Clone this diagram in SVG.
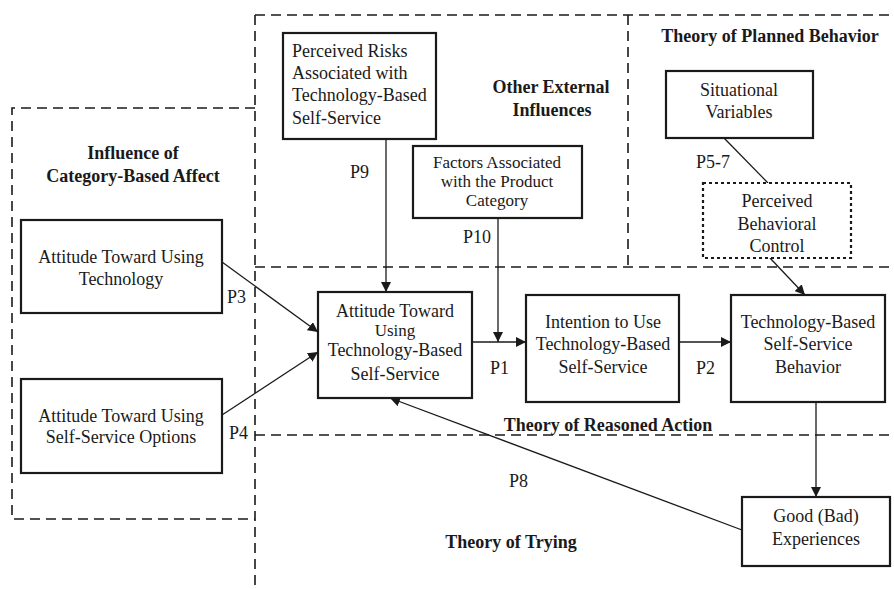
<svg xmlns="http://www.w3.org/2000/svg" width="894" height="589" viewBox="0 0 894 589" font-family="'Liberation Serif', 'DejaVu Serif', serif">
<style>
text{font-family:"Liberation Serif","Times New Roman",Times,serif;font-size:18px;fill:#1a1a1a}
.b{font-weight:bold}
.c{text-anchor:middle}
.s{font-size:17px}
.box{fill:#fff;stroke:#1a1a1a;stroke-width:2.2}
.dot{fill:#fff;stroke:#1a1a1a;stroke-width:2.2;stroke-dasharray:3,3}
.dash{fill:none;stroke:#1a1a1a;stroke-width:1.6;stroke-dasharray:10,6}
.ln{fill:none;stroke:#1a1a1a;stroke-width:1.3}
</style>
<defs>
<marker id="ah" viewBox="0 0 10 10" refX="10" refY="5" markerWidth="10" markerHeight="10" markerUnits="userSpaceOnUse" orient="auto">
<path d="M0,0 L10,5 L0,10 z" fill="#1a1a1a"/>
</marker>
</defs>
<g id="regions">
<path class="dash" d="M255,15 H894"/>
<path class="dash" d="M255,15 V589"/>
<path class="dash" d="M255,108 H12 V519 H255"/>
<path class="dash" d="M255,267 H894"/>
<path class="dash" d="M628,15 V267"/>
<path class="dash" d="M255,435 H894"/>
<text class="b c" x="770" y="42">Theory of Planned Behavior</text>
<text class="b c" x="551" y="93">Other External</text>
<text class="b c" x="552" y="116">Influences</text>
<text class="b c" x="133" y="159">Influence of</text>
<text class="b c" x="133" y="182">Category-Based Affect</text>
<text class="b c" x="608" y="431">Theory of Reasoned Action</text>
<text class="b c" x="511" y="548">Theory of Trying</text>
</g>
<g id="connectors">
<path class="ln" d="M222,262 L318,332" marker-end="url(#ah)"/>
<path class="ln" d="M222,415 L318,352" marker-end="url(#ah)"/>
<path class="ln" d="M386,139 V292" marker-end="url(#ah)"/>
<path class="ln" d="M498,218 V342" marker-end="url(#ah)"/>
<path class="ln" d="M472,342 H526" marker-end="url(#ah)"/>
<path class="ln" d="M679,342 H731" marker-end="url(#ah)"/>
<path class="ln" d="M724,138 L768,183"/>
<path class="ln" d="M770,258 L805,295" marker-end="url(#ah)"/>
<path class="ln" d="M816,402 V497" marker-end="url(#ah)"/>
<path class="ln" d="M742,530 L390,398" marker-end="url(#ah)"/>
<text x="350" y="178">P9</text>
<text x="463" y="243">P10</text>
<text x="227" y="303">P3</text>
<text x="229" y="439">P4</text>
<text x="490" y="374">P1</text>
<text x="696" y="374">P2</text>
<text x="696" y="168">P5-7</text>
<text x="509" y="487">P8</text>
</g>
<g id="risks">
<rect class="box" x="283" y="33" width="153" height="106"/>
<text x="292" y="57">Perceived Risks</text>
<text x="292" y="79">Associated with</text>
<text x="292" y="101">Technology-Based</text>
<text x="292" y="124">Self-Service</text>
</g>
<g id="factors">
<rect class="box" x="413" y="146" width="169" height="72"/>
<text class="c s" x="497" y="168">Factors Associated</text>
<text class="c s" x="497" y="187">with the Product</text>
<text class="c s" x="497" y="206">Category</text>
</g>
<g id="situational">
<rect class="box" x="666" y="71" width="147" height="67"/>
<text class="c" x="739" y="96">Situational</text>
<text class="c" x="739" y="118">Variables</text>
</g>
<g id="pbc">
<rect class="dot" x="703" y="183" width="148" height="75"/>
<text class="c" x="777" y="207">Perceived</text>
<text class="c" x="777" y="230">Behavioral</text>
<text class="c" x="777" y="252">Control</text>
</g>
<g id="att-tech">
<rect class="box" x="21" y="220" width="201" height="93"/>
<text class="c" x="121" y="263">Attitude Toward Using</text>
<text class="c" x="121" y="285">Technology</text>
</g>
<g id="att-self">
<rect class="box" x="21" y="379" width="201" height="94"/>
<text class="c" x="121" y="422">Attitude Toward Using</text>
<text class="c" x="121" y="443">Self-Service Options</text>
</g>
<g id="att-tbss">
<rect class="box" x="318" y="292" width="154" height="106"/>
<text class="c" x="395" y="317">Attitude Toward</text>
<text class="c s" x="395" y="336">Using</text>
<text class="c" x="395" y="356">Technology-Based</text>
<text class="c" x="395" y="380">Self-Service</text>
</g>
<g id="intention">
<rect class="box" x="526" y="295" width="153" height="107"/>
<text class="c" x="603" y="328">Intention to Use</text>
<text class="c" x="603" y="350">Technology-Based</text>
<text class="c" x="603" y="373">Self-Service</text>
</g>
<g id="behavior">
<rect class="box" x="731" y="295" width="154" height="107"/>
<text class="c" x="808" y="328">Technology-Based</text>
<text class="c" x="808" y="350">Self-Service</text>
<text class="c" x="808" y="373">Behavior</text>
</g>
<g id="experiences">
<rect class="box" x="742" y="497" width="148" height="69"/>
<text class="c" x="816" y="522">Good (Bad)</text>
<text class="c" x="816" y="545">Experiences</text>
</g>
</svg>
